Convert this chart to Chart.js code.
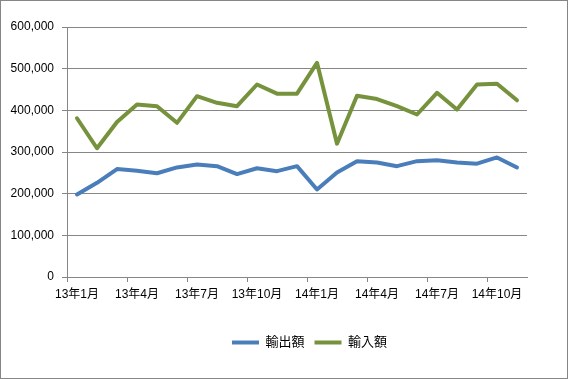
<!DOCTYPE html>
<html>
<head>
<meta charset="utf-8">
<script src="https://cdn.jsdelivr.net/npm/chart.js@4"></script>
<style>
html,body{margin:0;padding:0;background:#fff;}
#wrap{width:568px;height:379px;position:relative;}
</style>
</head>
<body>
<div id="wrap"><canvas id="c" width="568" height="379"></canvas></div>
<script>
const months = ["13年1月","13年2月","13年3月","13年4月","13年5月","13年6月","13年7月","13年8月","13年9月","13年10月","13年11月","13年12月",
                "14年1月","14年2月","14年3月","14年4月","14年5月","14年6月","14年7月","14年8月","14年9月","14年10月","14年11月"];
const exportValues = [198000,226000,259000,255000,249000,263000,270000,266000,247000,261000,254000,266000,
                      210000,251000,278000,275000,266000,278000,280000,275000,272000,287000,263000];
const importValues = [381000,309000,372000,414000,410000,370000,434000,418000,410000,462000,440000,440000,
                      514000,320000,435000,427000,410000,390000,442000,402000,462000,464000,424000];
const seriesNames = ["輸出額","輸入額"];
const yTicks = {min:0, max:600000, step:100000};

const gray = '#868686';
const fontFam = "'Liberation Sans', 'Noto Sans CJK JP', sans-serif";

const borderPlugin = {
  id:'outerBorder',
  beforeDraw(chart){
    const ctx = chart.ctx;
    ctx.save();
    ctx.fillStyle = '#fff';
    ctx.fillRect(0,0,chart.width,chart.height);
    ctx.restore();
    // center legend at the position used in the reference
    const lg = chart.legend;
    if (lg && !lg._shifted) {
      lg.left += 46; lg.right += 46; lg._shifted = true;
    }
  },
  afterDraw(chart){
    const ctx = chart.ctx;
    ctx.save();
    ctx.strokeStyle = gray;
    ctx.lineWidth = 1;
    ctx.strokeRect(0.5,0.5,chart.width-1,chart.height-1);
    ctx.restore();
  }
};

new Chart(document.getElementById('c'), {
  type:'line',
  data:{
    labels: months,
    datasets:[
      {label:seriesNames[0], data:exportValues, borderColor:'#4A7EBB', backgroundColor:'#4A7EBB',
       borderWidth:4, pointRadius:0, tension:0, borderCapStyle:'round', borderJoinStyle:'round'},
      {label:seriesNames[1], data:importValues, borderColor:'#76923C', backgroundColor:'#76923C',
       borderWidth:4, pointRadius:0, tension:0, borderCapStyle:'round', borderJoinStyle:'round'}
    ]
  },
  options:{
    responsive:false,
    animation:false,
    layout:{padding:{top:27, right:41, bottom:20, left:0}},
    plugins:{
      legend:{
        position:'bottom',
        labels:{
          usePointStyle:true, pointStyle:'line', pointStyleWidth:27,
          color:'#000', padding:10,
          font:{family:fontFam, size:13}
        }
      },
      tooltip:{enabled:false}
    },
    scales:{
      x:{
        offset:true,
        afterFit(s){ s.height = 49; },
        grid:{
          offset:true, drawOnChartArea:false, tickLength:5,
          color(ctx){ return (ctx.index % 3 === 0) ? gray : 'rgba(0,0,0,0)'; }
        },
        border:{display:true, color:gray},
        ticks:{
          autoSkip:false, maxRotation:0, padding:5, color:'#000',
          font:{family:fontFam, size:12},
          callback(v, i){ return (i % 3 === 0) ? months[i] : ''; }
        }
      },
      y:{
        min:yTicks.min, max:yTicks.max,
        afterFit(s){ s.width = 67; },
        grid:{color:gray, tickLength:5},
        border:{display:true, color:gray},
        ticks:{
          stepSize:yTicks.step, padding:8, color:'#000',
          font:{family:fontFam, size:12},
          callback(v){ return Number(v).toLocaleString('en-US'); }
        }
      }
    }
  },
  plugins:[borderPlugin]
});
</script>
</body>
</html>
